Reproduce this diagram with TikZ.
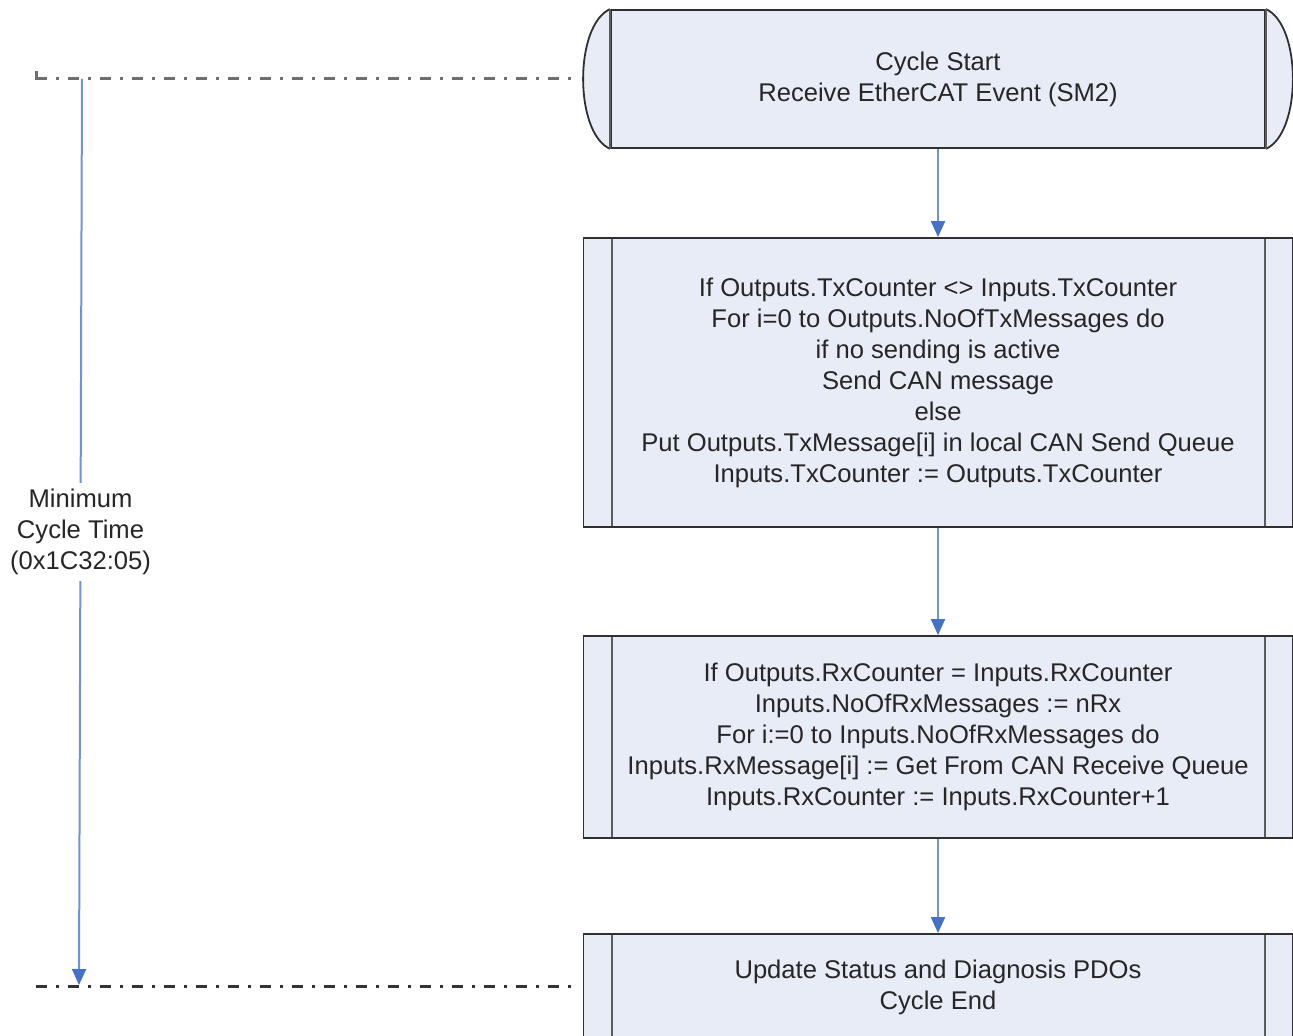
\documentclass[tikz,border=0pt]{standalone}
\usepackage{fontspec}
\setmainfont{Liberation Sans}
\usetikzlibrary{arrows.meta}
\definecolor{flowFill}{HTML}{E8ECF6}
\definecolor{flowEdge}{HTML}{303030}
\definecolor{flowInner}{HTML}{5C5C5C}
\definecolor{flowBlue}{HTML}{4472C4}
\definecolor{flowLine}{HTML}{6F94D6}
\definecolor{flowDash}{HTML}{6E6E6E}
\definecolor{flowText}{HTML}{262626}
\tikzset{
  flowtext/.style={font=\fontsize{12.8}{15.5}\selectfont,align=center,
                   text=flowText},
  flowterm/.style={rectangle,draw=flowEdge,fill=flowFill,line width=0.9pt,
                   minimum width=327pt,minimum height=69pt,flowtext},
  flowsub/.style={rectangle,draw=flowEdge,fill=flowFill,line width=0.9pt,
                  minimum width=354.5pt,flowtext,
    path picture={\draw[flowInner,line width=1pt]
      ([xshift=14pt]path picture bounding box.north west) --
      ([xshift=14pt]path picture bounding box.south west)
      ([xshift=-14pt]path picture bounding box.north east) --
      ([xshift=-14pt]path picture bounding box.south east);}},
  flowarrow/.style={-{Triangle[length=8pt,width=7pt,color=flowBlue]},
                    flowLine,line width=1pt},
  flowmark/.style={flowDash,line width=1.5pt,
                   dash pattern=on 5.5pt off 4.5pt on 1.5pt off 4.5pt}
}

\begin{document}
\begin{tikzpicture}[x=0.5pt,y=-0.5pt]
    \useasboundingbox (0,0) rectangle (1293,1036);
    \clip (0,0) rectangle (1293,1036);

    % flow boxes
    \node[flowterm] (start) at (938,79)
      {Cycle Start\\Receive EtherCAT Event (SM2)};
    \path[fill=flowFill,draw=flowEdge,line width=0.9pt] (start.north west)
      .. controls +(-18pt,-8pt) and +(-18pt,8pt) .. (start.south west);
    \path[fill=flowFill,draw=flowEdge,line width=0.9pt] (start.north east)
      .. controls +(18pt,-8pt) and +(18pt,8pt) .. (start.south east);
    \draw[flowInner,line width=1pt] (start.north west) -- (start.south west)
      (start.north east) -- (start.south east);

    \node[flowsub,minimum height=144.5pt] (txbox) at (938,382.5)
      {If Outputs.TxCounter <> Inputs.TxCounter\\
       For i=0 to Outputs.NoOfTxMessages do\\
       if no sending is active\\
       Send CAN message\\
       else\\
       Put Outputs.TxMessage[i] in local CAN Send Queue\\
       Inputs.TxCounter := Outputs.TxCounter};
    \node[flowsub,minimum height=101pt] (rxbox) at (938,737)
      {If Outputs.RxCounter = Inputs.RxCounter\\
       Inputs.NoOfRxMessages := nRx\\
       For i:=0 to Inputs.NoOfRxMessages do\\
       Inputs.RxMessage[i] := Get From CAN Receive Queue\\
       Inputs.RxCounter := Inputs.RxCounter+1};
    \node[flowsub,minimum height=53pt] (endbox) at (938,987)
      {Update Status and Diagnosis PDOs\\Cycle End};

    \draw[flowarrow] (start.south) -- (txbox.north);
    \draw[flowarrow] (txbox.south) -- (rxbox.north);
    \draw[flowarrow] (rxbox.south) -- (endbox.north);

    % cycle time marks
    \coordinate (tl) at (36,79);
    \coordinate (tr) at (578,79);
    \coordinate (bl) at (36,986);
    \coordinate (br) at (578,986);
    \draw[flowDash,line width=1.5pt] (36,71) -- (tl) -- (41,79);
    \draw[flowmark] (tl) -- (tr);
    \draw[flowmark,draw=black!80] (bl) -- (br);

    \coordinate (ctop) at (82,79);
    \coordinate (cbot) at (79,985);
    \draw[flowarrow] (ctop) -- node[fill=white,flowtext,inner sep=3pt]
      (cyclab) {Minimum\\Cycle Time\\(0x1C32:05)} (cbot);
\end{tikzpicture}
\end{document}
